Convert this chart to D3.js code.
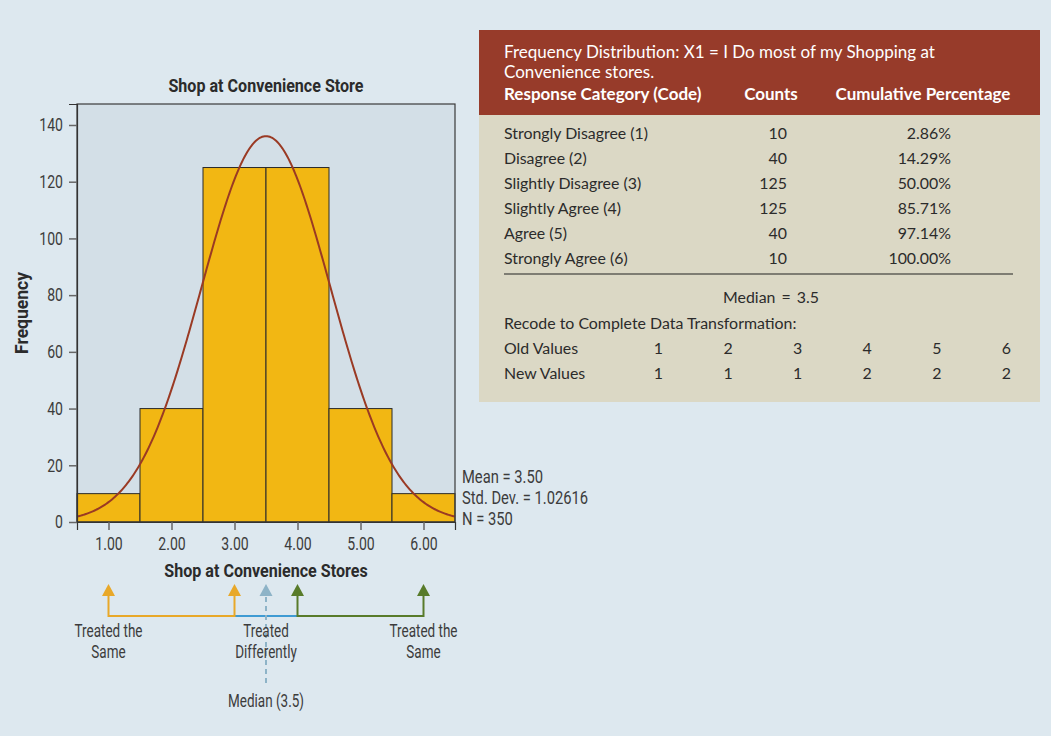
<!DOCTYPE html>
<html>
<head>
<meta charset="utf-8">
<script src="https://cdn.jsdelivr.net/npm/d3@7"></script>
<style>
  html, body { margin: 0; padding: 0; background: #dde8ef; }
  svg { display: block; }
  .narrow { font-family: Roboto, "Liberation Sans", sans-serif; }
  .tbl { font-family: Lato, "Open Sans", sans-serif; }
</style>
</head>
<body>
<svg id="chart" width="1051" height="736"></svg>
<script>
// ---------- data ----------
const codes = [1, 2, 3, 4, 5, 6];
const categories = ["Strongly Disagree (1)", "Disagree (2)", "Slightly Disagree (3)", "Slightly Agree (4)", "Agree (5)", "Strongly Agree (6)"];
const counts = [10, 40, 125, 125, 40, 10];
const cumulativePct = ["2.86%", "14.29%", "50.00%", "85.71%", "97.14%", "100.00%"];
const oldValues = [1, 2, 3, 4, 5, 6];
const newValues = [1, 1, 1, 2, 2, 2];
const yTicks = [0, 20, 40, 60, 80, 100, 120, 140];
const xTicks = [1, 2, 3, 4, 5, 6];
const statsMean = 3.5;
const statsSD = 1.02616;
const statsN = 350;
const medianValue = 3.5;
const statsLines = ["Mean = 3.50", "Std. Dev. = 1.02616", "N = 350"];
const headerLines = ["Frequency Distribution: X1 = I Do most of my Shopping at", "Convenience stores."];

// ---------- setup ----------
const SX = 0.78;      // horizontal condensing for regular condensed text
const SXB = 0.92;     // condensing for bold titles
const FS = 18;        // regular condensed font size
const svg = d3.select("#chart");
const plot = { left: 77, right: 455, top: 104, bottom: 522 };
const x = d3.scaleLinear().domain([0.5, 6.5]).range([plot.left, plot.right]);
const y = d3.scaleLinear().domain([0, 147.4]).range([plot.bottom, plot.top]);

const textCol = "#2b2b2b";
const softCol = "#3c3c3c";

function narrow(parent, tx, ty, str, opts = {}) {
  const sx = opts.sx || SX;
  const t = parent.append("text").attr("class", "narrow")
    .attr("transform", `translate(${tx},${ty})${opts.rotate ? ` rotate(${opts.rotate})` : ""} scale(${sx},1)`)
    .attr("font-size", opts.size || FS)
    .attr("fill", opts.fill || softCol)
    .attr("text-anchor", opts.anchor || "start")
    .text(str);
  if (opts.bold) t.attr("font-weight", "bold");
  return t;
}

// plot background
svg.append("rect")
  .attr("x", plot.left).attr("y", plot.top)
  .attr("width", plot.right - plot.left).attr("height", plot.bottom - plot.top)
  .attr("fill", "#d3dfe7");

// bars
svg.append("g").selectAll("rect").data(codes).join("rect")
  .attr("x", (d) => x(d - 0.5))
  .attr("width", (d) => x(d + 0.5) - x(d - 0.5))
  .attr("y", (d, i) => y(counts[i]))
  .attr("height", (d, i) => y(0) - y(counts[i]))
  .attr("fill", "#f2b713")
  .attr("stroke", "#2a2a2a")
  .attr("stroke-width", 1);

// normal curve (fitted from the reported mean / std. dev. / N)
const curveXs = d3.range(0.5, 6.5001, 0.02);
const binWidth = 1;
const pdf = (v) => statsN * binWidth * Math.exp(-0.5 * Math.pow((v - statsMean) / statsSD, 2)) / (statsSD * Math.sqrt(2 * Math.PI));
svg.append("path")
  .datum(curveXs)
  .attr("fill", "none")
  .attr("stroke", "#9a3a24")
  .attr("stroke-width", 2)
  .attr("d", d3.line().x((d) => x(d)).y((d) => y(pdf(d))));

// frame
svg.append("rect")
  .attr("x", plot.left).attr("y", plot.top)
  .attr("width", plot.right - plot.left).attr("height", plot.bottom - plot.top)
  .attr("fill", "none").attr("stroke", "#3a3a3a").attr("stroke-width", 1.2);

// axes
const yAxis = svg.append("g")
  .attr("transform", `translate(${plot.left},0)`)
  .call(d3.axisLeft(y).tickValues(yTicks).tickSize(8).tickPadding(5));
const xAxis = svg.append("g")
  .attr("transform", `translate(0,${plot.bottom})`)
  .call(d3.axisBottom(x).tickValues(xTicks).tickFormat(d3.format(".2f")).tickSize(8).tickPadding(7));
[yAxis, xAxis].forEach((g) => {
  g.select(".domain").attr("stroke", "#333").attr("stroke-width", 1.2);
  g.selectAll(".tick line").attr("stroke", "#666").attr("stroke-width", 1.5);
  g.selectAll(".tick text").attr("fill", softCol).style("font-size", FS + "px")
    .style("font-family", 'Roboto, "Liberation Sans", sans-serif')
    .attr("transform", `scale(${SX},1)`);
});
yAxis.selectAll(".tick text").attr("x", -14 / SX);

// titles
narrow(svg, (plot.left + plot.right) / 2, 92, "Shop at Convenience Store", { anchor: "middle", bold: true, size: 17.5, fill: textCol, sx: SXB });
narrow(svg, (plot.left + plot.right) / 2, 577, "Shop at Convenience Stores", { anchor: "middle", bold: true, size: 17.5, fill: textCol, sx: SXB });
narrow(svg, 28, (plot.top + plot.bottom) / 2, "Frequency", { anchor: "middle", bold: true, size: 17.5, fill: textCol, rotate: -90, sx: 1.0 });

// stats
statsLines.forEach((s, i) => narrow(svg, 462, 483 + i * 21, s, { sx: 0.82 }));

// ---------- arrows under axis ----------
const arrowTipY = 584, arrowBaseY = 596, lineY = 616;
const orange = "#e8a829", green = "#587b2a", blueLine = "#3f9bd3", blueArrow = "#8db3c7";
const segs = [
  { a: 1, b: 3, c: orange },
  { a: 3, b: 4, c: blueLine },
  { a: 4, b: 6, c: green }
];
svg.append("g").selectAll("line").data(segs).join("line")
  .attr("x1", (d) => x(d.a)).attr("x2", (d) => x(d.b))
  .attr("y1", lineY).attr("y2", lineY)
  .attr("stroke", (d) => d.c).attr("stroke-width", 2);
const arrows = [
  { v: 1, c: orange }, { v: 3, c: orange }, { v: 4, c: green }, { v: 6, c: green }
];
const ag = svg.append("g");
ag.selectAll("line").data(arrows).join("line")
  .attr("x1", (d) => x(d.v)).attr("x2", (d) => x(d.v))
  .attr("y1", arrowBaseY - 1).attr("y2", lineY + 1)
  .attr("stroke", (d) => d.c).attr("stroke-width", 2);
ag.selectAll("path").data(arrows).join("path")
  .attr("d", (d) => `M${x(d.v)},${arrowTipY} L${x(d.v) + 6.5},${arrowBaseY} L${x(d.v) - 6.5},${arrowBaseY} Z`)
  .attr("fill", (d) => d.c);
// median arrow
svg.append("line")
  .attr("x1", x(medianValue)).attr("x2", x(medianValue))
  .attr("y1", arrowBaseY + 1).attr("y2", 686)
  .attr("stroke", blueArrow).attr("stroke-width", 2).attr("stroke-dasharray", "5,4");
svg.append("path")
  .attr("d", `M${x(medianValue)},${arrowTipY} L${x(medianValue) + 6.5},${arrowBaseY} L${x(medianValue) - 6.5},${arrowBaseY} Z`)
  .attr("fill", blueArrow);

const labels = [
  { v: 1, lines: ["Treated the", "Same"] },
  { v: medianValue, lines: ["Treated", "Differently"] },
  { v: 6, lines: ["Treated the", "Same"] }
];
labels.forEach((l) => {
  l.lines.forEach((t, i) => narrow(svg, x(l.v), 637 + i * 21, t, { anchor: "middle", sx: 0.75 }));
});
narrow(svg, x(medianValue), 707, "Median (3.5)", { anchor: "middle", sx: 0.75 });

// ---------- table ----------
const T = { left: 479, right: 1040, top: 30, headBottom: 115, bottom: 402 };
svg.append("rect").attr("x", T.left).attr("y", T.top)
  .attr("width", T.right - T.left).attr("height", T.bottom - T.top).attr("fill", "#dbd8c5");
svg.append("rect").attr("x", T.left).attr("y", T.top)
  .attr("width", T.right - T.left).attr("height", T.headBottom - T.top).attr("fill", "#973b2a");

const hg = svg.append("g").attr("class", "tbl").attr("font-size", 17).attr("fill", "#fff");
const tg = svg.append("g").attr("class", "tbl").attr("font-size", 15.9);
const colLabel = 504, colCount = 787, colPct = 951;
headerLines.forEach((s, i) => {
  hg.append("text").attr("x", colLabel).attr("y", 57.5 + i * 20.5).text(s);
});
hg.append("text").attr("x", colLabel).attr("y", 100).attr("font-weight", "bold")
  .text("Response Category (Code)");
hg.append("text").attr("x", 771).attr("y", 100).attr("font-weight", "bold")
  .attr("text-anchor", "middle").text("Counts");
hg.append("text").attr("x", 923).attr("y", 100).attr("font-weight", "bold")
  .attr("text-anchor", "middle").text("Cumulative Percentage");

const rowY = (i) => 139 + i * 25;
tg.append("g").selectAll("text").data(categories).join("text")
  .attr("x", colLabel).attr("y", (d, i) => rowY(i)).attr("fill", textCol).text((d) => d);
tg.append("g").selectAll("text").data(counts).join("text")
  .attr("x", colCount).attr("y", (d, i) => rowY(i)).attr("text-anchor", "end").attr("fill", textCol).text((d) => d);
tg.append("g").selectAll("text").data(cumulativePct).join("text")
  .attr("x", colPct).attr("y", (d, i) => rowY(i)).attr("text-anchor", "end").attr("fill", textCol).text((d) => d);

tg.append("line").attr("x1", colLabel).attr("x2", 1013).attr("y1", 274).attr("y2", 274)
  .attr("stroke", "#222").attr("stroke-width", 1.2);

tg.append("text").attr("x", 771).attr("y", 303).attr("text-anchor", "middle").attr("fill", textCol)
  .text("Median \u2009=\u2009 " + medianValue);
tg.append("text").attr("x", colLabel).attr("y", 329).attr("fill", textCol)
  .text("Recode to Complete Data Transformation:");
tg.append("text").attr("x", colLabel).attr("y", 354).attr("fill", textCol).text("Old Values");
tg.append("text").attr("x", colLabel).attr("y", 379).attr("fill", textCol).text("New Values");
const valX = (i) => 663 + i * 69.6;
tg.append("g").selectAll("text").data(oldValues).join("text")
  .attr("x", (d, i) => valX(i)).attr("y", 354).attr("text-anchor", "end").attr("fill", textCol).text((d) => d);
tg.append("g").selectAll("text").data(newValues).join("text")
  .attr("x", (d, i) => valX(i)).attr("y", 379).attr("text-anchor", "end").attr("fill", textCol).text((d) => d);
</script>
</body>
</html>
